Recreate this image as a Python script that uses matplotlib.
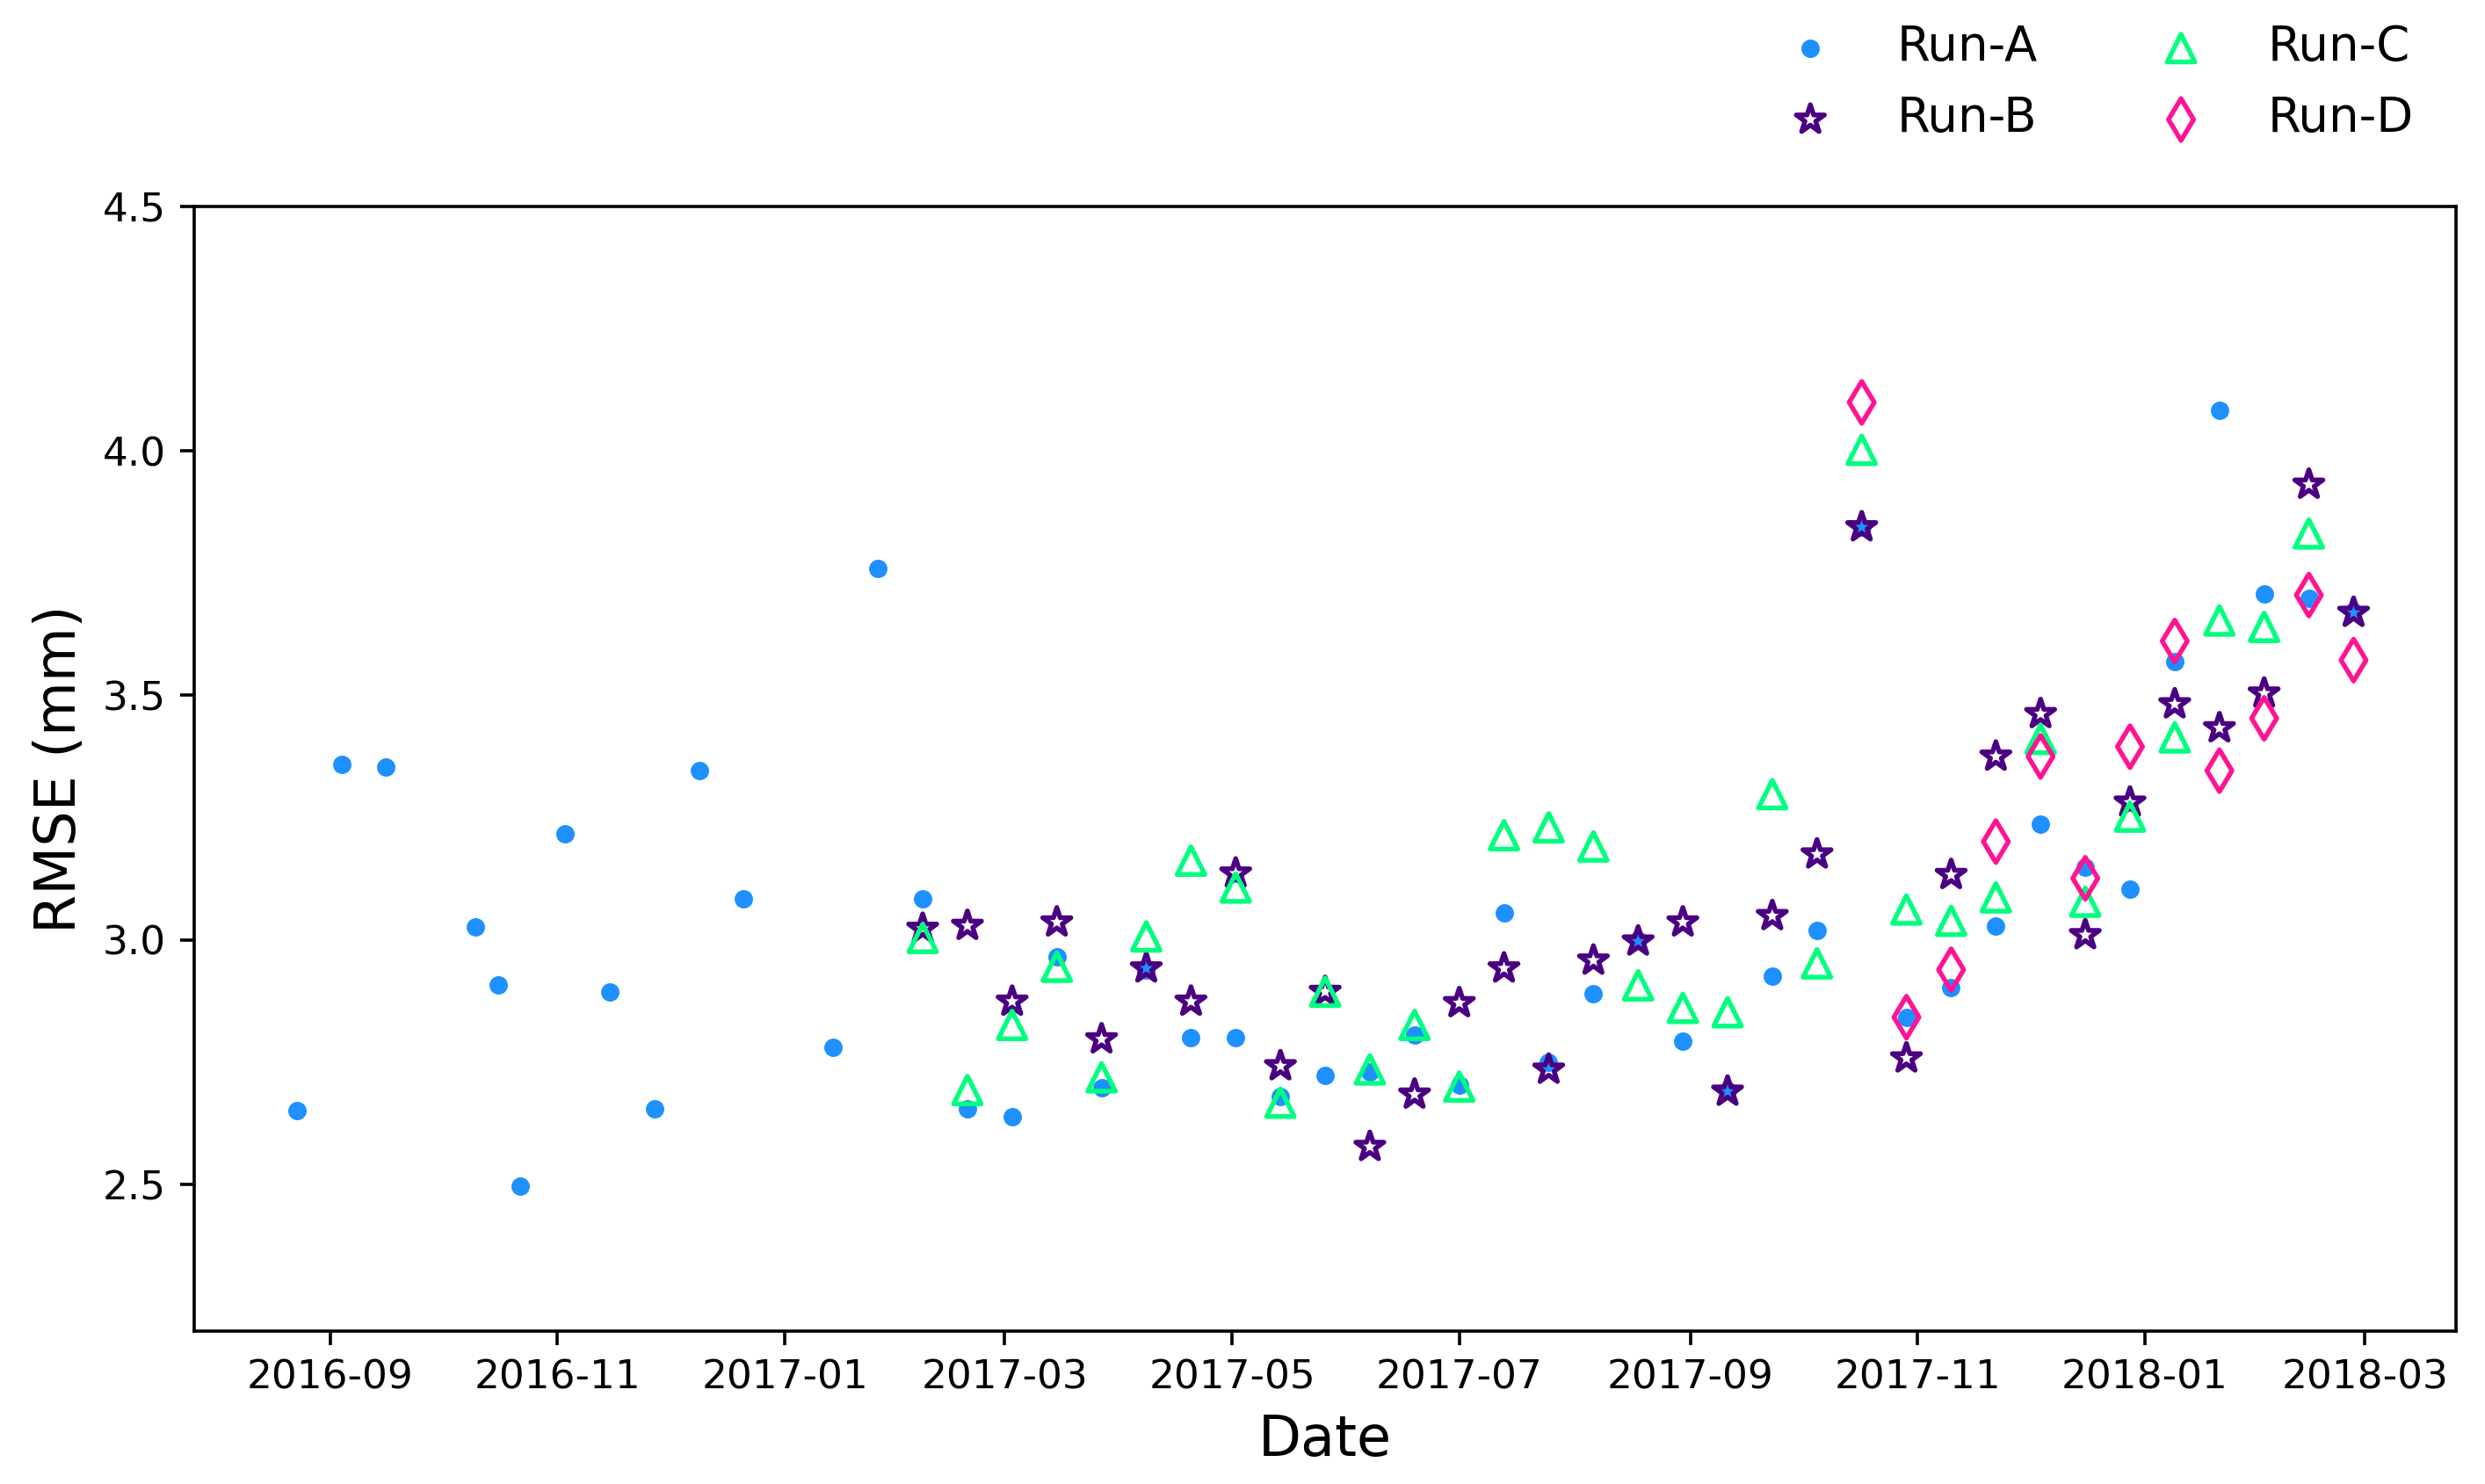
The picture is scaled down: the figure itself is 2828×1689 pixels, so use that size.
import matplotlib
matplotlib.use("Agg")
import matplotlib.pyplot as plt
import matplotlib.dates as mdates
import pandas as pd

# ---------------------------------------------------------
# data
# ---------------------------------------------------------
dates_a = ["2016-08-23", "2016-09-04", "2016-09-16", "2016-10-10", "2016-10-16", "2016-10-22",
           "2016-11-03", "2016-11-15", "2016-11-27", "2016-12-09", "2016-12-21", "2017-01-14",
           "2017-01-26", "2017-02-07", "2017-02-19", "2017-03-03", "2017-03-15", "2017-03-27",
           "2017-04-08", "2017-04-20", "2017-05-02", "2017-05-14", "2017-05-26", "2017-06-07",
           "2017-06-19", "2017-07-01", "2017-07-13", "2017-07-25", "2017-08-06", "2017-08-18",
           "2017-08-30", "2017-09-11", "2017-09-23", "2017-10-05", "2017-10-17", "2017-10-29",
           "2017-11-10", "2017-11-22", "2017-12-04", "2017-12-16", "2017-12-28", "2018-01-09",
           "2018-01-21", "2018-02-02", "2018-02-14", "2018-02-26"]
rmse_a = [2.651, 3.359, 3.353, 3.026, 2.907, 2.496, 3.217, 2.894, 2.655, 3.346, 3.084, 2.780,
          3.760, 3.084, 2.655, 2.638, 2.965, 2.697, 2.939, 2.800, 2.800, 2.680, 2.722, 2.730,
          2.806, 2.703, 3.055, 2.750, 2.890, 3.000, 2.793, 2.693, 2.926, 3.020, 3.844, 2.842,
          2.903, 3.029, 3.236, 3.149, 3.104, 3.569, 4.083, 3.708, 3.698, 3.672]

dates_b = dates_a[13:]
rmse_b = [3.023, 3.029, 2.874, 3.036, 2.797, 2.942, 2.874, 3.136, 2.742, 2.894, 2.577, 2.684,
          2.871, 2.942, 2.735, 2.958, 2.997, 3.036, 2.690, 3.049, 3.175, 3.844, 2.758, 3.133,
          3.375, 3.462, 3.010, 3.281, 3.482, 3.433, 3.504, 3.931, 3.669]

dates_c = dates_a[13:45]
rmse_c = [3.004, 2.693, 2.826, 2.945, 2.719, 3.007, 3.162, 3.107, 2.667, 2.894, 2.735, 2.826,
          2.700, 3.214, 3.230, 3.191, 2.907, 2.861, 2.852, 3.298, 2.952, 4.002, 3.062, 3.039,
          3.087, 3.411, 3.078, 3.252, 3.414, 3.653, 3.640, 3.831]

dates_d = dates_a[34:]
rmse_d = [4.099, 2.842, 2.939, 3.201, 3.375, 3.126, 3.395, 3.611, 3.346, 3.453, 3.705, 3.572]

# ---------------------------------------------------------
# plot
# ---------------------------------------------------------
DPI = 327
fig = plt.figure(figsize=(2828 / DPI, 1689 / DPI), dpi=DPI)
ax = fig.add_axes([0.078, 0.103, 0.9105, 0.758])

ax.scatter(pd.to_datetime(dates_a), rmse_a, s=13, marker='o', color='dodgerblue', label='Run-A')
ax.scatter(pd.to_datetime(dates_b), rmse_b, s=55, marker='*', facecolors='none',
           edgecolors='indigo', linewidths=1.2, label='Run-B')
ax.scatter(pd.to_datetime(dates_c), rmse_c, s=48, marker='^', facecolors='none',
           edgecolors='springgreen', linewidths=1.2, label='Run-C')
ax.scatter(pd.to_datetime(dates_d), rmse_d, s=55, marker='d', facecolors='none',
           edgecolors='deeppink', linewidths=1.2, label='Run-D')

ax.set_ylim(2.2, 4.5)
ax.set_yticks([2.5, 3.0, 3.5, 4.0, 4.5])
ax.xaxis.set_major_locator(mdates.MonthLocator(bymonth=[1, 3, 5, 7, 9, 11]))
ax.xaxis.set_major_formatter(mdates.DateFormatter('%Y-%m'))
ax.tick_params(labelsize=10)

ax.set_xlabel('Date', fontsize=14)
ax.set_ylabel('RMSE (mm)', fontsize=14)

fig.legend(ncol=2, fontsize=12, frameon=False, loc='upper right',
           bbox_to_anchor=(0.9885, 1.013))

fig.savefig('out.png', dpi=DPI)
